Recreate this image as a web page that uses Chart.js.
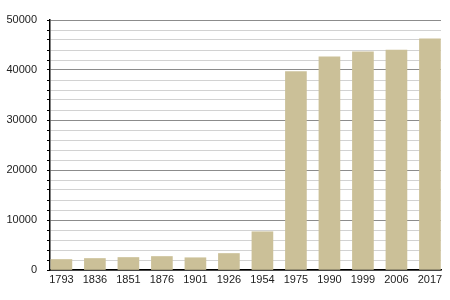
<!DOCTYPE html>
<html>
<head>
<meta charset="utf-8">
<style>
  html, body { margin: 0; padding: 0; background: #fff; }
  #wrap { width: 450px; height: 300px; }
</style>
</head>
<body>
<div id="wrap"><canvas id="chart" width="450" height="300"></canvas></div>
<script src="https://cdn.jsdelivr.net/npm/chart.js@4"></script>
<script>
const years = ['1793', '1836', '1851', '1876', '1901', '1926', '1954', '1975', '1990', '1999', '2006', '2017'];
const population = [2100, 2300, 2500, 2700, 2450, 3300, 7650, 39700, 42650, 43650, 44000, 46250];
const yTickLabels = [0, 10000, 20000, 30000, 40000, 50000];

const ctx = document.getElementById('chart');
new Chart(ctx, {
  type: 'bar',
  data: {
    datasets: [{
      data: population.map((v, i) => ({ x: i, y: v })),
      backgroundColor: '#cbc098',
      borderWidth: 0,
      barThickness: 21
    }]
  },
  options: {
    responsive: false,
    animation: false,
    layout: { padding: { left: 0, right: 9, top: 20, bottom: 0 } },
    plugins: { legend: { display: false }, tooltip: { enabled: false } },
    scales: {
      x: {
        type: 'linear',
        offset: false,
        min: -0.34,
        max: 11.33,
        afterBuildTicks: s => { s.ticks = years.map((_, i) => ({ value: i })); },
        afterFit: s => { s.height = 30; },
        grid: { display: false, drawTicks: false, offset: false },
        border: { display: true, color: '#000', width: 1.5 },
        ticks: {
          autoSkip: false,
          maxRotation: 0,
          padding: 3,
          color: '#222',
          font: { family: 'Liberation Sans', size: 11 },
          callback: v => years[v]
        }
      },
      y: {
        min: 0,
        max: 50000,
        afterFit: s => { s.width = 50; },
        afterBuildTicks: s => {
          const t = [];
          for (let v = 0; v <= 50000; v += 2000) t.push({ value: v });
          s.ticks = t;
        },
        grid: {
          color: c => (c.tick && c.tick.value % 10000 === 0) ? '#8c8c8c' : '#d2d2d2',
          tickColor: '#000',
          tickLength: 3,
          lineWidth: 1
        },
        border: { display: true, color: '#000', width: 1.5 },
        ticks: {
          autoSkip: false,
          padding: 10,
          color: '#222',
          font: { family: 'Liberation Sans', size: 11 },
          callback: v => yTickLabels.includes(v) ? String(v) : ''
        }
      }
    }
  }
});
</script>
</body>
</html>
